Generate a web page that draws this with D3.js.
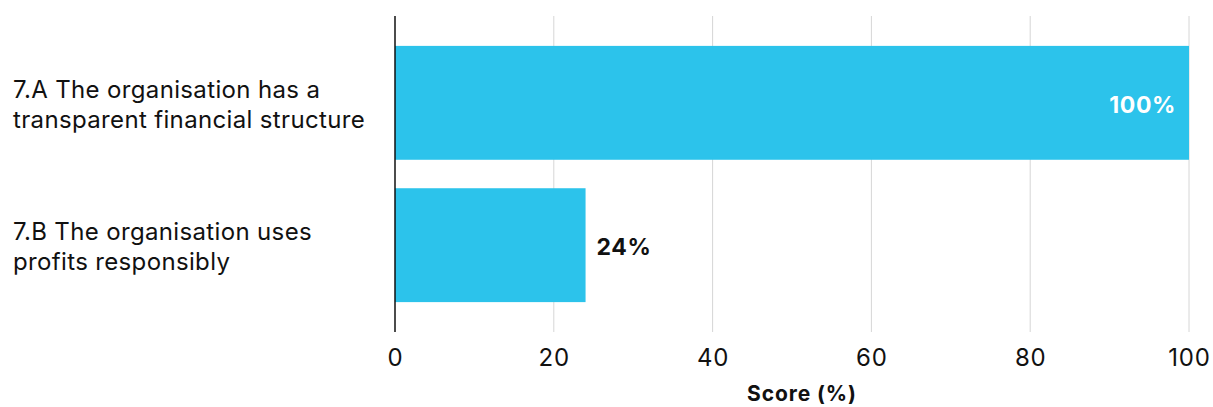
<!DOCTYPE html>
<html>
<head>
<meta charset="utf-8">
<script src="https://cdn.jsdelivr.net/npm/d3@7"></script>
<style>
  html, body { margin: 0; padding: 0; background: #fff; }
  svg { display: block; font-family: "Inter", "Noto Sans", sans-serif; }
</style>
</head>
<body>
<svg id="chart" width="1213" height="407"></svg>
<script>
// Criteria and their scores (%)
const categories = [
  ["7.A The organisation has a", "transparent financial structure"],
  ["7.B The organisation uses", "profits responsibly"]
];
const scores = [100, 24];
const tickValues = [0, 20, 40, 60, 80, 100];
const axisTitle = "Score (%)";

const svg = d3.select("#chart");
const margin = { left: 395, right: 24, top: 16, bottom: 75 };
const W = 1213, H = 407;

const x = d3.scaleLinear().domain([0, 100]).range([margin.left, W - margin.right]);
const y = d3.scaleBand()
  .domain(d3.range(categories.length))
  .range([margin.top, H - margin.bottom])
  .paddingInner(0.2)
  .paddingOuter(0.21);

const barColor = "#2cc3eb";
const ink = "#111111";

// vertical grid lines
svg.append("g")
  .selectAll("line")
  .data(tickValues.filter(d => d > 0))
  .join("line")
  .attr("x1", d => x(d)).attr("x2", d => x(d))
  .attr("y1", margin.top).attr("y2", H - margin.bottom)
  .attr("stroke", "#d6d6d6").attr("stroke-width", 1);

// bars
svg.append("g")
  .selectAll("rect")
  .data(scores)
  .join("rect")
  .attr("x", x(0))
  .attr("y", (d, i) => y(i))
  .attr("width", d => x(d) - x(0))
  .attr("height", y.bandwidth())
  .attr("fill", barColor);

// value labels: inside for full bars, outside otherwise
svg.append("g")
  .selectAll("text")
  .data(scores)
  .join("text")
  .attr("x", d => d > 50 ? x(d) - 13 : x(d) + 11)
  .attr("y", (d, i) => y(i) + y.bandwidth() / 2 + 10)
  .attr("text-anchor", d => d > 50 ? "end" : "start")
  .attr("fill", d => d > 50 ? "#ffffff" : ink)
  .attr("font-weight", 700)
  .attr("font-size", 23)
  .attr("letter-spacing", 0.6)
  .text(d => d + "%");

// zero baseline
svg.append("line")
  .attr("x1", x(0)).attr("x2", x(0))
  .attr("y1", margin.top).attr("y2", H - margin.bottom)
  .attr("stroke", ink).attr("stroke-width", 1.5);

// category labels (two lines each)
const catG = svg.append("g");
categories.forEach((lines, i) => {
  const cy = y(i) + y.bandwidth() / 2;
  const t = catG.append("text")
    .attr("font-size", 24)
    .attr("letter-spacing", 0.35)
    .attr("fill", ink);
  lines.forEach((ln, j) => {
    t.append("tspan")
      .attr("x", 13)
      .attr("y", cy + (j - (lines.length - 1) / 2) * 30 + 10)
      .text(ln);
  });
});

// x axis tick labels
const xAxis = d3.axisBottom(x).tickValues(tickValues).tickSize(0).tickPadding(0);
const gx = svg.append("g")
  .attr("transform", `translate(0,${H - margin.bottom})`)
  .call(xAxis);
gx.select(".domain").remove();
gx.selectAll("text")
  .attr("dy", null)
  .attr("y", 34)
  .attr("font-family", "Inter, 'Noto Sans', sans-serif")
  .attr("font-size", 24)
  .attr("letter-spacing", 0.8)
  .attr("fill", ink);

// axis title
svg.append("text")
  .attr("x", (x(0) + x(100)) / 2 + 10)
  .attr("y", 401)
  .attr("text-anchor", "middle")
  .attr("font-size", 21)
  .attr("font-weight", 700)
  .attr("letter-spacing", 0.9)
  .attr("fill", ink)
  .text(axisTitle);
</script>
</body>
</html>
